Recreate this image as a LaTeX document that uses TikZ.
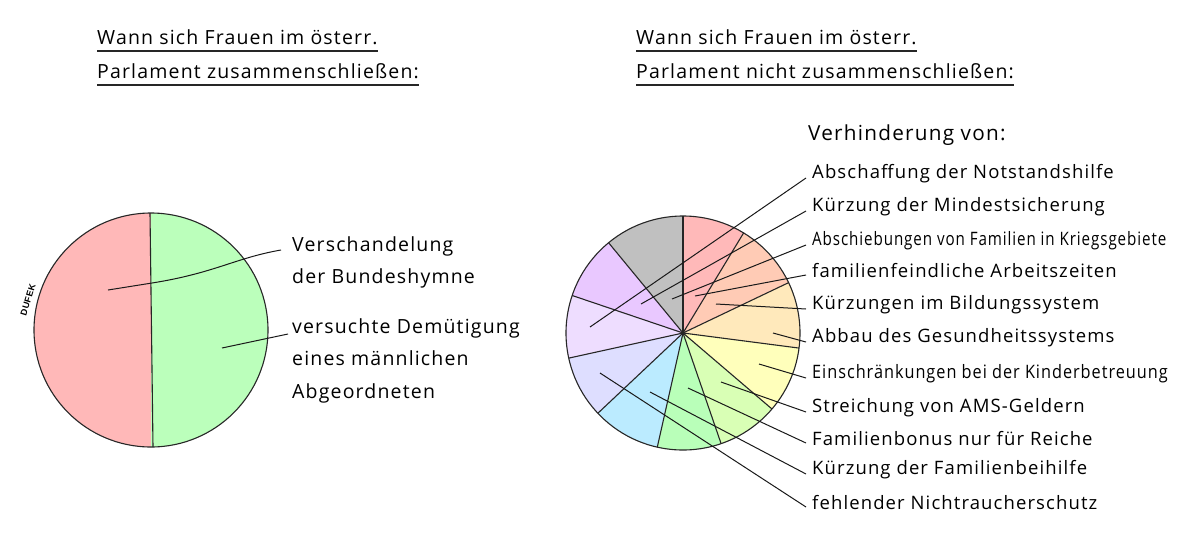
\documentclass[tikz,border=0pt]{standalone}
\usepackage{fontspec}
\setmainfont[LetterSpace=6]{Open Sans}
\newfontfamily\dufekfont[LetterSpace=4]{Liberation Sans}
\definecolor{pRed}{HTML}{FFB8B8}
\definecolor{pGreen}{HTML}{BBFFBB}
\definecolor{sA}{HTML}{FFB9B9}
\definecolor{sB}{HTML}{FFCBB5}
\definecolor{sC}{HTML}{FFE9BB}
\definecolor{sD}{HTML}{FFFFBB}
\definecolor{sE}{HTML}{D9FFB5}
\definecolor{sF}{HTML}{B9FFB9}
\definecolor{sG}{HTML}{BBEBFF}
\definecolor{sH}{HTML}{DEDEFF}
\definecolor{sI}{HTML}{EEDDFF}
\definecolor{sJ}{HTML}{E9C8FF}
\definecolor{sK}{HTML}{C0C0C0}
\newcommand\hwfont{\fontsize{18.5}{32}\selectfont}
\newcommand\ttlfont{\fontsize{19.5}{32}\selectfont}
\newcommand\leftfont{\fontsize{19.5}{32.5}\selectfont}
\begin{document}
\begin{tikzpicture}[x=1pt,y=-1pt,
  lab/.style={anchor=west,inner sep=0pt,font=\hwfont},
  ttl/.style={anchor=base west,inner sep=0pt,font=\ttlfont},
  uline/.style={line width=1.1pt,black!85},
  lead/.style={line width=1pt,black!90},
  edge/.style={line width=1.1pt,black!85}]
\useasboundingbox (0,0) rectangle (1200,550);

% ---------- titles ----------
\node[ttl] (tl1) at (97,44) {Wann sich Frauen im österr.};
\node[ttl] (tl2) at (97,78) {Parlament zusammenschließen:};
\node[ttl] (tr1) at (636,44) {Wann sich Frauen im österr.};
\node[ttl] (tr2) at (636,78) {Parlament nicht zusammenschließen:};
\foreach \t in {tl1,tl2,tr1,tr2}
  \draw[uline] ([yshift=-7pt]\t.base west) -- ([yshift=-7pt]\t.base east);

% ---------- left pie ----------
\begin{scope}[shift={(151,330)},y=1pt]
  \fill[pRed] (0,0) -- (90:117) arc[start angle=90,end angle=270,radius=117] -- cycle;
  \fill[pGreen] (0,0) -- (-90:117) arc[start angle=-90,end angle=90,radius=117] -- cycle;
  \draw[edge] (0,0) circle[radius=117];
  \draw[edge] (-1,117) -- (2,-117);
\end{scope}
\node[inner sep=0pt,rotate=73,font=\dufekfont\bfseries\fontsize{9}{9}\selectfont] (dufek) at (28,300) {DUFEK};

\node[inner sep=0pt,font=\leftfont,anchor=north west,align=left] (lv) at (292,236) {Verschandelung\\der Bundeshymne};
\node[inner sep=0pt,font=\leftfont,anchor=north west,align=left] (ld) at (292,318) {versuchte Demütigung\\eines männlichen\\Abgeordneten};
\coordinate (lv0) at (108,290);
\coordinate (ld0) at (222,348);
\draw[lead] (lv0) -- (152,283) .. controls (215,273) and (235,258) .. ([xshift=-11pt,yshift=-14pt]lv.north west);
\draw[lead] (ld0) -- ([xshift=-4pt,yshift=-16pt]ld.north west);

% ---------- right pie ----------
\begin{scope}[shift={(683,333)},y=1pt]
  \def\R{117}
  \foreach \a/\b/\c in {90/58.8/sA,58.8/25.5/sB,25.5/-7.4/sC,-7.4/-40.5/sD,-40.5/-71/sE,-71/-102.7/sF,-102.7/-136.7/sG,-136.7/-167.6/sH,-167.6/-198.7/sI,-198.7/-230.5/sJ,-230.5/-270/sK}
    \fill[\c] (0,0) -- (\a:\R) arc[start angle=\a,end angle=\b,radius=\R] -- cycle;
  \foreach \a in {90,58.8,25.5,-7.4,-40.5,-71,-102.7,-136.7,-167.6,161.3,129.5}
    \draw[edge] (0,0) -- (\a:\R);
  \draw[edge] (0,0) circle[radius=\R];
\end{scope}

\node[lab] (head) at (808,135) {\scalebox{1.12}{Verhinderung von:}};
\node[lab] (r1) at (812,174) {Abschaffung der Notstandshilfe};
\node[lab] (r2) at (812,207) {Kürzung der Mindestsicherung};
\node[lab] (r3) at (812,241) {\scalebox{0.82}[1]{Abschiebungen von Familien in Kriegsgebiete}};
\node[lab] (r4) at (812,271) {familienfeindliche Arbeitszeiten};
\node[lab] (r5) at (812,305) {Kürzungen im Bildungssystem};
\node[lab] (r6) at (812,338) {Abbau des Gesundheitssystems};
\node[lab] (r7) at (812,374) {\scalebox{0.88}[1]{Einschränkungen bei der Kinderbetreuung}};
\node[lab] (r8) at (812,408) {Streichung von AMS-Geldern};
\node[lab] (r9) at (812,439) {Familienbonus nur für Reiche};
\node[lab] (r10) at (812,470) {Kürzung der Familienbeihilfe};
\node[lab] (r11) at (812,503) {fehlender Nichtraucherschutz};

\coordinate (p1) at (590,327);
\coordinate (p2) at (641,304);
\coordinate (p3) at (672,299);
\coordinate (p4) at (695,296);
\coordinate (p5) at (716,304);
\coordinate (p6) at (773,333);
\coordinate (p7) at (759,364);
\coordinate (p8) at (721,382);
\coordinate (p9) at (688,388);
\coordinate (p10) at (650,392);
\coordinate (p11) at (600,373);
\foreach \i in {1,...,11}
  \draw[lead] (p\i) -- ([xshift=-6pt,yshift=-4pt]r\i.west);
\end{tikzpicture}
\end{document}
